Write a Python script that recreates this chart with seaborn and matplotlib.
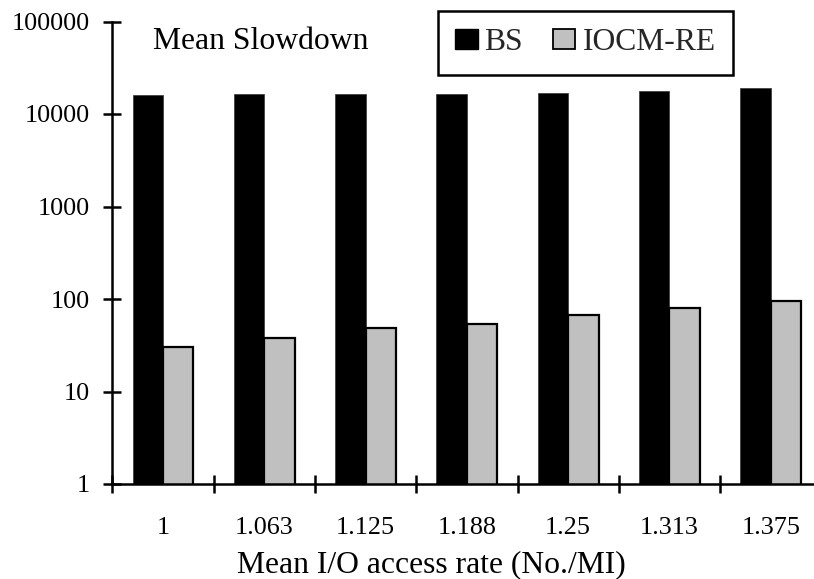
import matplotlib
matplotlib.use("Agg")
import matplotlib.pyplot as plt
import seaborn as sns
import pandas as pd
from matplotlib.patches import Patch
from matplotlib.ticker import FixedLocator, NullFormatter

categories = ["1", "1.063", "1.125", "1.188", "1.25", "1.313", "1.375"]
bs_values = [16200, 16300, 16400, 16600, 17000, 17800, 18900]
iocm_values = [30.3, 37.9, 48.3, 54.3, 66.4, 80.2, 95.3]
series_names = ["BS", "IOCM-RE"]
ytick_values = [1, 10, 100, 1000, 10000, 100000]
ytick_labels = ["1", "10", "100", "1000", "10000", "100000"]
colors = ["#000000", "#C0C0C0"]

df = pd.DataFrame({
    "rate": categories * 2,
    "value": bs_values + iocm_values,
    "series": [series_names[0]] * len(categories) + [series_names[1]] * len(categories),
})

sns.set_theme(style="white")
plt.rcParams["font.family"] = ["Liberation Serif", "DejaVu Serif"]

W, H = 814, 579
fig = plt.figure(figsize=(W / 100, H / 100), dpi=100)
ax_left, ax_right = 112.3, 814.0
ax_top, ax_bottom = 21.5, 484.0
ax = fig.add_axes([ax_left / W, (H - ax_bottom) / H,
                   (ax_right - ax_left) / W, (ax_bottom - ax_top) / H])

sns.barplot(data=df, x="rate", y="value", hue="series", order=categories,
            hue_order=series_names, palette=colors, width=0.6, ax=ax,
            legend=False, saturation=1)
ax.set_yscale("log")
for i, p in enumerate(ax.patches):
    if i < len(categories):
        p.set_edgecolor("#333333")
        p.set_linewidth(0.5)
    else:
        p.set_edgecolor("black")
        p.set_linewidth(1.6)

cat_px = 101.3
ax.set_xlim(-0.5, -0.5 + (ax_right - ax_left) / cat_px)
ax.set_ylim(1, 100000)

ax.yaxis.set_major_locator(FixedLocator(ytick_values))
ax.set_yticklabels(ytick_labels)
ax.yaxis.set_minor_locator(FixedLocator([]))
ax.yaxis.set_minor_formatter(NullFormatter())

ax.set_xticks(range(len(categories)))
ax.set_xticklabels(categories)
ax.set_xticks([i - 0.5 for i in range(len(categories))], minor=True)

for s in ["top", "right"]:
    ax.spines[s].set_visible(False)
for s in ["left", "bottom"]:
    ax.spines[s].set_linewidth(1.8)
    ax.spines[s].set_color("black")

ax.tick_params(axis="y", which="major", direction="inout", length=13, width=1.8,
               labelsize=18.8, pad=9.5, colors="black", left=True)
ax.tick_params(axis="x", which="major", length=0, labelsize=18.8, pad=23.5, colors="black")
ax.tick_params(axis="x", which="minor", direction="inout", length=13.5, width=1.8,
               colors="black", bottom=True)

ax.set_ylabel("")
ax.set_xlabel("Mean I/O access rate (No./MI)", fontsize=22.8, color="black")
ax.xaxis.set_label_coords(0.455, -0.143)

ax.text((153.3 - ax_left) / (ax_right - ax_left), (ax_bottom - 49.3) / (ax_bottom - ax_top),
        "Mean Slowdown", transform=ax.transAxes, fontsize=22.8, va="baseline",
        ha="left", color="black")

handles = [Patch(facecolor=colors[0], edgecolor="black", linewidth=1.0),
           Patch(facecolor=colors[1], edgecolor="black", linewidth=1.3)]
leg = fig.legend(handles, series_names, loc="upper left",
                 bbox_to_anchor=(438 / W, 1 - 10.7 / H), ncol=2, fontsize=22.8,
                 frameon=True, fancybox=False, shadow=False, framealpha=1,
                 handlelength=0.7, handleheight=0.63, handletextpad=0.22,
                 columnspacing=0.95, borderpad=0.55, borderaxespad=0)
leg.get_frame().set_edgecolor("black")
leg.get_frame().set_linewidth(1.8)

fig.savefig("out.png", dpi=100)
